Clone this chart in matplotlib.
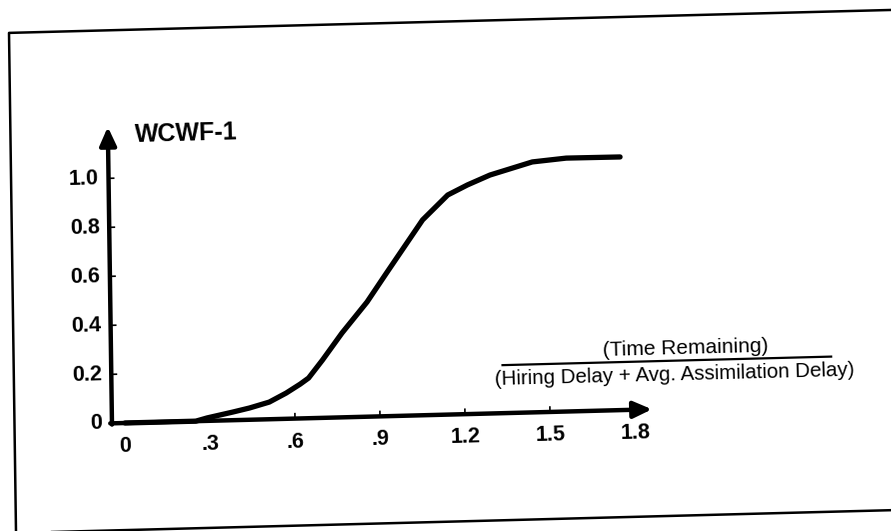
import numpy as np
import matplotlib
matplotlib.use("Agg")
import matplotlib.pyplot as plt
from matplotlib.transforms import Affine2D

plt.rcParams['font.family'] = ['Liberation Sans', 'DejaVu Sans']

# curve
ratio = [0, 0.25, 0.29, 0.38, 0.44, 0.51, 0.57, 0.62, 0.65, 0.70, 0.77,
         0.86, 0.93, 1.06, 1.15, 1.22, 1.30, 1.45, 1.57, 1.76]
wcwf = [0, 0.0, 0.012, 0.033, 0.048, 0.070, 0.105, 0.14, 0.164, 0.236, 0.344,
        0.468, 0.584, 0.797, 0.896, 0.935, 0.973, 1.022, 1.034, 1.033]

xticks = [0, 0.3, 0.6, 0.9, 1.2, 1.5, 1.8]
xlabels = ['0', '.3', '.6', '.9', '1.2', '1.5', '1.8']
yticks = [0, 0.2, 0.4, 0.6, 0.8, 1.0]
ylabels = ['0', '0.2', '0.4', '0.6', '0.8', '1.0']

ylab = 'WCWF-1'
num = '(Time Remaining)'
den = '(Hiring Delay + Avg. Assimilation Delay)'

fig = plt.figure(figsize=(8.91, 5.31), dpi=100)
ax = fig.add_axes([0, 0, 1, 1])
ax.set_xlim(-125 / 283.3, (891 - 125) / 283.3)
ax.set_ylim(-108 / 245.0, (531 - 108) / 245.0)
ax.axis('off')

# the scanned page is slightly skewed
t1, t2 = 0.026, 0.014
px, py = ax.transData.transform((0, 0))
skew = (Affine2D().translate(-px, -py)
        + Affine2D(np.array([[1, -t2, 0], [t1, 1, 0], [0, 0, 1]]))
        + Affine2D().translate(px, py))
T = ax.transData + skew
ang = np.degrees(np.arctan(t1))

# page frame
fx = [2.95, -0.39, -0.39]
fy = [1.604, 1.604, -0.6]
ax.plot(fx, fy, color='k', lw=1.8, transform=T, clip_on=False)
ax.plot([-0.39, 2.95], [-0.437, -0.437], color='k', lw=1.8, transform=T, clip_on=False)

x0 = -0.046
arrow = dict(arrowstyle='-|>,head_length=0.55,head_width=0.25', lw=3.2,
             color='k', mutation_scale=20, shrinkA=0, shrinkB=0)
ax.annotate('', xy=(x0, 1.21), xytext=(x0, -0.005), xycoords=T, textcoords=T,
            arrowprops=arrow)
ax.annotate('', xy=(1.86, 0), xytext=(x0 - 0.006, 0), xycoords=T, textcoords=T,
            arrowprops=arrow)

# ticks
for v in yticks[1:]:
    ax.plot([x0, x0 + 0.018], [v, v], color='k', lw=1.2, transform=T)
for v in xticks[1:]:
    ax.plot([v, v], [0, 0.02], color='k', lw=1.2, transform=T)

ax.plot(ratio, wcwf, color='k', lw=3.8, solid_capstyle='round',
        solid_joinstyle='round', transform=T)

for v, s in zip(yticks, ylabels):
    ax.text(-0.08, v, s, transform=T, ha='right', va='center', fontsize=15.5,
            fontweight='bold', rotation=ang, rotation_mode='anchor')
for v, s in zip(xticks, xlabels):
    ax.text(v, -0.095, s, transform=T, ha='center', va='center', fontsize=15.5,
            fontweight='bold', rotation=ang, rotation_mode='anchor')

ax.text(0.05, 1.176, ylab, transform=T, ha='left', va='center', fontsize=18,
        fontweight='bold', rotation=ang, rotation_mode='anchor')

ax.text(1.98, 0.245, num, transform=T, ha='center', va='center', fontsize=15,
        rotation=ang, rotation_mode='anchor')
ax.plot([1.335, 2.495], [0.196, 0.196], color='k', lw=1.6, transform=T)
ax.text(1.94, 0.138, den, transform=T, ha='center', va='center', fontsize=14.8,
        rotation=ang, rotation_mode='anchor')

fig.savefig('out.png', dpi=100)
